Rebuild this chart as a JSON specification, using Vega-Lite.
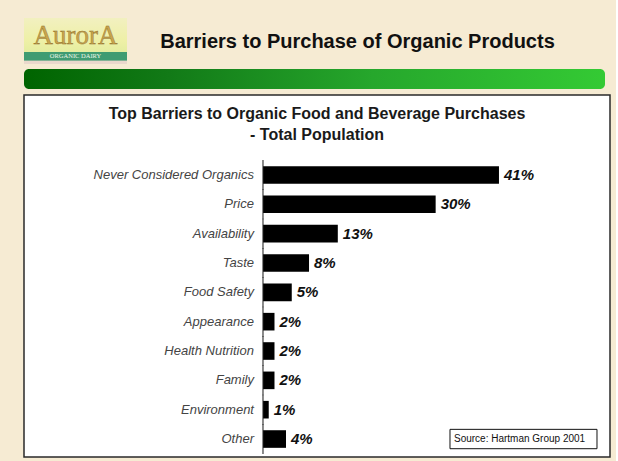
{
  "$schema": "https://vega.github.io/schema/vega-lite/v6.json",
  "background": "#f6ebd3",
  "padding": {"left": 23, "top": 18, "right": 5, "bottom": 5},
  "config": {"font": "Liberation Sans", "view": {"stroke": null}},
  "spacing": 5,
  "vconcat": [
    {
      "spacing": 10,
      "hconcat": [
        {
          "width": 103,
          "height": 46,
          "data": {"values": [{"brand": "AurorA", "tag": "ORGANIC DAIRY"}]},
          "layer": [
            {
              "mark": {
                "type": "rect",
                "color": {
                  "gradient": "linear", "x1": 0, "y1": 0, "x2": 0, "y2": 1,
                  "stops": [
                    {"offset": 0, "color": "#f2f0c0"},
                    {"offset": 0.5, "color": "#eef0a6"},
                    {"offset": 0.74, "color": "#e4eda0"},
                    {"offset": 0.75, "color": "#3f9c72"},
                    {"offset": 0.92, "color": "#3f9c72"},
                    {"offset": 0.93, "color": "#ead8cc"},
                    {"offset": 1, "color": "#ead8cc"}
                  ]
                }
              },
              "encoding": {}
            },
            {
              "mark": {"type": "text", "font": "Liberation Serif", "fontSize": 27, "color": "#c9a54c", "stroke": "#8c6d2c", "strokeWidth": 0.4, "baseline": "middle", "dy": -5},
              "encoding": {"text": {"field": "brand"}}
            },
            {
              "mark": {"type": "text", "font": "Liberation Serif", "fontSize": 6.5, "color": "#eef6e8", "baseline": "middle", "dy": 15},
              "encoding": {"text": {"field": "tag"}}
            }
          ]
        },
        {
          "width": 441,
          "height": 46,
          "data": {"values": [{"slide": "Barriers to Purchase of Organic Products"}]},
          "mark": {"type": "text", "fontSize": 20, "fontWeight": "bold", "color": "#111", "baseline": "alphabetic", "dy": 7},
          "encoding": {"text": {"field": "slide"}}
        }
      ]
    },
    {
      "width": 581,
      "height": 20,
      "data": {"values": [{"part": "header rule"}]},
      "mark": {
        "type": "rect",
        "cornerRadius": 5,
        "color": {
          "gradient": "linear", "x1": 0, "y1": 0, "x2": 1, "y2": 0,
          "stops": [
            {"offset": 0, "color": "#006400"},
            {"offset": 0.25, "color": "#127a17"},
            {"offset": 0.6, "color": "#26a72c"},
            {"offset": 1, "color": "#34ca34"}
          ]
        }
      },
      "encoding": {}
    },
    {
      "width": 586,
      "height": 362,
      "view": {"fill": "white", "stroke": "#2a2a2a", "strokeWidth": 1.5},
      "title": {
        "text": ["Top Barriers to Organic Food and Beverage Purchases", "- Total Population"],
        "fontSize": 16,
        "fontWeight": "bold",
        "lineHeight": 21,
        "baseline": "top",
        "offset": -48,
        "color": "#1a1a1a",
        "anchor": "middle"
      },
      "data": {
        "values": [
          {"barrier": "Never Considered Organics", "share": 0.41},
          {"barrier": "Price", "share": 0.30},
          {"barrier": "Availability", "share": 0.13},
          {"barrier": "Taste", "share": 0.08},
          {"barrier": "Food Safety", "share": 0.05},
          {"barrier": "Appearance", "share": 0.02},
          {"barrier": "Health Nutrition", "share": 0.02},
          {"barrier": "Family", "share": 0.02},
          {"barrier": "Environment", "share": 0.01},
          {"barrier": "Other", "share": 0.04}
        ]
      },
      "encoding": {
        "y": {
          "field": "barrier",
          "type": "nominal",
          "sort": null,
          "axis": null,
          "scale": {
            "domain": ["Never Considered Organics", "Price", "Availability", "Taste", "Food Safety", "Appearance", "Health Nutrition", "Family", "Environment", "Other"],
            "range": [65.3, 358.7],
            "paddingInner": 0.4,
            "paddingOuter": 0.2
          }
        }
      },
      "layer": [
        {
          "mark": {"type": "bar", "color": "#000"},
          "encoding": {
            "x": {"field": "share", "type": "quantitative", "axis": null, "scale": {"domain": [-0.4152, 0.6029], "nice": false, "zero": false}}
          }
        },
        {
          "mark": {"type": "tick", "color": "#222", "thickness": 1.5, "size": 30},
          "encoding": {"x": {"datum": 0, "type": "quantitative"}}
        },
        {
          "mark": {"type": "text", "align": "right", "baseline": "middle", "dx": -9, "fontStyle": "italic", "fontSize": 13, "color": "#444"},
          "encoding": {"x": {"datum": 0, "type": "quantitative"}, "text": {"field": "barrier"}}
        },
        {
          "mark": {"type": "text", "align": "left", "baseline": "middle", "dx": 5, "fontStyle": "italic", "fontWeight": "bold", "fontSize": 15, "color": "#111"},
          "encoding": {"x": {"field": "share", "type": "quantitative"}, "text": {"field": "share", "type": "quantitative", "format": ".0%"}}
        },
        {
          "data": {"values": [{"note": "Source:  Hartman Group 2001"}]},
          "layer": [
            {
              "mark": {"type": "bar", "fill": "white", "stroke": "#111", "strokeWidth": 1, "height": {"band": 1.1}},
              "encoding": {
                "x": {"datum": 0.3249, "type": "quantitative"},
                "x2": {"datum": 0.5803},
                "y": {"datum": "Other", "type": "nominal"}
              }
            },
            {
              "mark": {"type": "text", "align": "left", "baseline": "middle", "fontSize": 10, "color": "#111"},
              "encoding": {
                "x": {"datum": 0.3318, "type": "quantitative"},
                "y": {"datum": "Other", "type": "nominal"},
                "text": {"field": "note"}
              }
            }
          ]
        }
      ]
    }
  ]
}
